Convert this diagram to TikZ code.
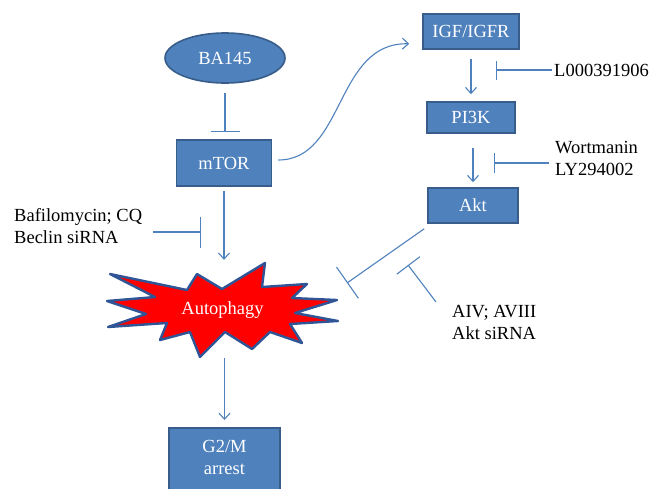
\documentclass[tikz,border=0pt]{standalone}
\usepackage{fontspec}
\setmainfont{Liberation Serif}
\usetikzlibrary{arrows.meta,shapes.geometric}
\definecolor{boxblue}{HTML}{4F81BD}
\definecolor{boxedge}{HTML}{385D8A}
\definecolor{burstedge}{HTML}{2F5597}
\begin{document}
\begin{tikzpicture}[x=1pt, y=-1pt,
  font=\fontsize{18.5}{22}\selectfont,
  bluebox/.style={draw=boxedge, fill=boxblue, line width=1.6pt, text=white, inner sep=0pt},
  lbl/.style={inner sep=0pt, align=left},
  link/.style={boxblue, line width=1.1pt},
  act/.style={link, -{Straight Barb[length=6pt,width=11pt]}},
  inh/.style={link, -{Bar[width=#1]}}, inh/.default=28pt]
\useasboundingbox (0,0) rectangle (650,488);
\clip (0,0) rectangle (650,488);

% left column
\node[bluebox, ellipse, minimum width=120pt, minimum height=50pt] (ba) at (225,58) {BA145};
\node[bluebox, minimum width=95pt, minimum height=46pt] (mtor) at (224,163) {mTOR};

% right column
\node[bluebox, minimum width=96pt, minimum height=35pt] (igf) at (471,31.5) {IGF/IGFR};
\node[bluebox, minimum width=88pt, minimum height=31pt] (pik) at (471,117.5) {PI3K};
\node[bluebox, minimum width=90pt, minimum height=35pt] (akt) at (473,205.5) {Akt};

% autophagy burst
\filldraw[fill=red, draw=burstedge, line width=2.4pt, line join=round]
  (110,274) -- (187,290) -- (197,274) -- (222,289) -- (265,263) -- (262,287)
  -- (307,284) -- (292,298) -- (337,300) -- (295,313) -- (338,321) -- (290,324)
  -- (302,343) -- (270,332) -- (252,349) -- (225,332) -- (200,357) -- (190,332)
  -- (160,340) -- (167,323) -- (108,327) -- (146,314) -- (107,301) -- (155,297) -- cycle;
\node[text=white, minimum width=231pt, minimum height=94pt, inner sep=0pt] (auto) at (222.5,310) {Autophagy};

\node[bluebox, anchor=north, minimum width=111pt, minimum height=90pt] (g2m) at (224.5,427) {};
\node[text=white, align=center, inner sep=0pt] (g2mtext) at (224.5,457) {G2/M\\arrest};

% inhibitor labels
\node[lbl, anchor=west] (l00) at (554,70) {L000391906};
\node[lbl, anchor=west] (wort) at (555,158) {Wortmanin\\LY294002};
\node[lbl, anchor=west] (bafi) at (14,226) {Bafilomycin; CQ\\Beclin siRNA};
\node[lbl, anchor=north west] (aiv) at (452,305) {AIV; AVIII\\Akt siRNA};

\coordinate (l00bar) at (496,70);
\coordinate (wortbar) at (494,163);
\coordinate (bafibar) at (201,232);
\coordinate (aktbar) at (347,283);
\coordinate (aivbar) at (408,265);

% connectors
\draw[inh=29pt, shorten <=9pt, shorten >=7pt] (ba.south) -- (ba.south |- mtor.north);
\draw[act] ([xshift=6pt,yshift=3pt]mtor.east) .. controls (345,160) and (335,42) .. ([shift={(-13pt,6pt)}]igf.south west);
\draw[act, shorten <=9pt, shorten >=7pt] (igf.south) -- (pik.north);
\draw[act, shorten <=14pt, shorten >=5pt] (akt.north |- pik.south) -- (akt.north);
\draw[act, shorten <=4pt, shorten >=3pt] (mtor.south) -- (mtor.south |- auto.north);
\draw[act, shorten <=1pt, shorten >=7pt] (g2m.north |- auto.south) -- (g2m.north);

\draw[inh=19pt, shorten <=2pt] (l00.west) -- (l00bar);
\draw[inh=20pt, shorten <=6pt] (wortbar -| wort.west) -- (wortbar);
\draw[inh=31pt, shorten <=11pt] (bafibar -| bafi.east) -- (bafibar);
\draw[inh=38pt] ([shift={(-3pt,-5pt)}]akt.south west) -- (aktbar);
\draw[inh=29pt] ([shift={(-16pt,3pt)}]aiv.north west) -- (aivbar);
\end{tikzpicture}
\end{document}
